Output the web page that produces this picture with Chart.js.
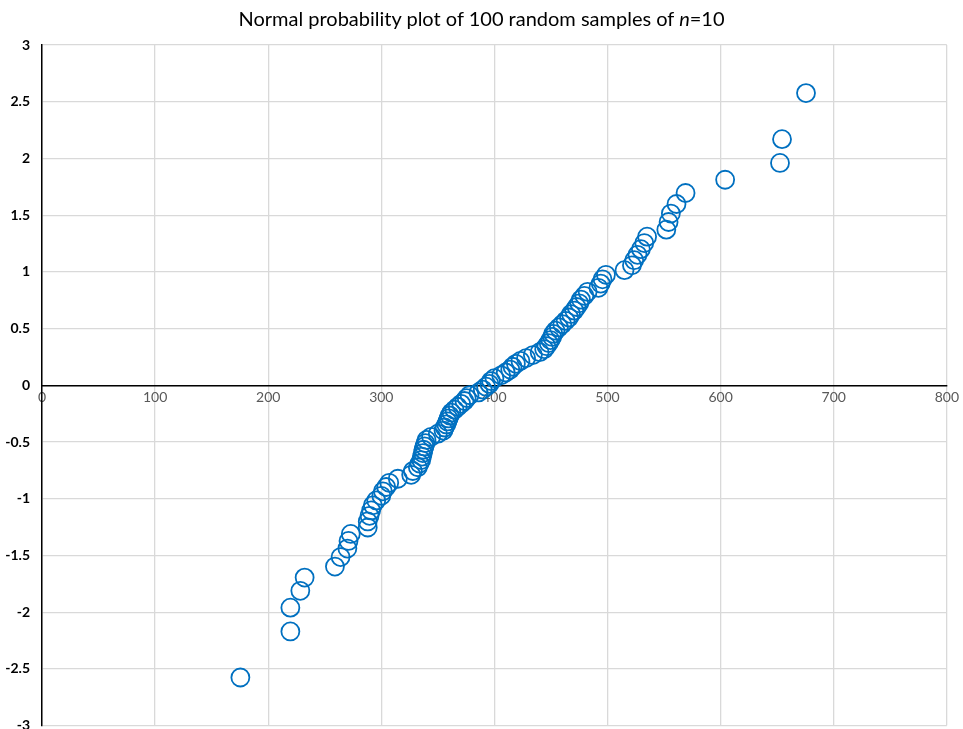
<!DOCTYPE html>
<html>
<head>
<meta charset="utf-8">
<script src="https://cdn.jsdelivr.net/npm/chart.js@4/dist/chart.umd.min.js"></script>
<style>
  body { margin: 0; background: #fff; }
  #contenedor { position: relative; width: 963px; height: 729px; overflow: hidden; }
  #grafico { position: absolute; left: 0; top: 0; }
  #titulo {
    position: absolute; top: 6px; left: 0; width: 963px;
    text-align: center; font-family: Lato, "Open Sans", sans-serif;
    font-size: 20px; color: #000;
  }
</style>
</head>
<body>
<div id="contenedor">
  <canvas id="grafico" width="963" height="746"></canvas>
  <div id="titulo">Normal probability plot of 100 random samples of <i>n</i>=10</div>
</div>
<script>
// sample means, sorted
const valoresX = [
  175.4, 219.6, 219.6, 228.4, 232.2, 259, 264, 270, 271, 273,
  288, 288, 289.6, 291, 292.5, 295.5, 300, 301.4, 304.3, 307,
  314.6, 326.4, 327.9, 332.3, 333.8, 335.3, 336, 336.7, 337.3, 338.2,
  339, 340, 344, 350, 355, 356, 357.5, 358.5, 359.5, 360.5,
  362, 364.7, 367.6, 370.6, 373.5, 375.5, 378, 386, 389.7, 392.6,
  395.6, 397, 400, 406, 410, 414, 416, 419, 423, 428,
  434, 440, 444, 446, 448, 449.5, 451, 452, 454, 457,
  460, 463, 466, 467.7, 470.6, 472.7, 475, 476.5, 479.5, 482.4,
  492, 494, 495.6, 498.6, 515, 521.6, 523.6, 526.5, 529.5, 532.5,
  535, 552, 554, 556, 561, 569, 604, 652.5, 654.3, 675.5
];

// normal scores
const puntajesZ = [
  -2.5758, -2.1701, -1.9600, -1.8119, -1.6954, -1.5982, -1.5141, -1.4395, -1.3722, -1.3106,
  -1.2536, -1.2004, -1.1503, -1.1031, -1.0581, -1.0152, -0.9741, -0.9346, -0.8965, -0.8596,
  -0.8239, -0.7892, -0.7554, -0.7225, -0.6903, -0.6588, -0.6280, -0.5978, -0.5681, -0.5388,
  -0.5101, -0.4817, -0.4538, -0.4261, -0.3989, -0.3719, -0.3451, -0.3186, -0.2924, -0.2663,
  -0.2404, -0.2147, -0.1891, -0.1637, -0.1383, -0.1130, -0.0878, -0.0627, -0.0376, -0.0125,
  0.0125, 0.0376, 0.0627, 0.0878, 0.1130, 0.1383, 0.1637, 0.1891, 0.2147, 0.2404,
  0.2663, 0.2924, 0.3186, 0.3451, 0.3719, 0.3989, 0.4261, 0.4538, 0.4817, 0.5101,
  0.5388, 0.5681, 0.5978, 0.6280, 0.6588, 0.6903, 0.7225, 0.7554, 0.7892, 0.8239,
  0.8596, 0.8965, 0.9346, 0.9741, 1.0152, 1.0581, 1.1031, 1.1503, 1.2004, 1.2536,
  1.3106, 1.3722, 1.4395, 1.5141, 1.5982, 1.6954, 1.8119, 1.9600, 2.1701, 2.5758
];

const rangoX = [0, 800];
const rangoY = [-3, 3];

const puntos = valoresX.map((x, i) => ({ x: x, y: puntajesZ[i] }));

const ctx = document.getElementById("grafico").getContext("2d");

new Chart(ctx, {
  type: "scatter",
  data: {
    datasets: [
      {
        data: puntos,
        borderColor: "#0070C0",
        backgroundColor: "rgba(0,0,0,0)",
        borderWidth: 1.8,
        pointRadius: 9,
        pointHoverRadius: 9,
      },
    ],
  },
  options: {
    responsive: false,
    animation: false,
    layout: { padding: { top: 45, right: 15, bottom: 4, left: 0 } },
    plugins: {
      legend: { display: false },
      tooltip: { enabled: false },
    },
    scales: {
      x: {
        type: "linear",
        position: { y: 0 },
        min: rangoX[0],
        max: rangoX[1],
        ticks: {
          stepSize: 100,
          color: "#595959",
          font: { family: "Lato", size: 14 },
          padding: 4,
        },
        grid: { color: "#d9d9d9", lineWidth: 1.3, drawTicks: false },
        border: { color: "#000", width: 1.5 },
      },
      y: {
        type: "linear",
        min: rangoY[0],
        max: rangoY[1],
        afterFit: (escala) => { escala.width = 42; },
        ticks: {
          stepSize: 0.5,
          color: "#000",
          font: { family: "Lato", size: 14, weight: "bold" },
          padding: 12,
          callback: (valor) => String(valor),
        },
        grid: { color: "#d9d9d9", lineWidth: 1.3, drawTicks: false },
        border: { color: "#000", width: 1.5 },
      },
    },
  },
});
</script>
</body>
</html>
